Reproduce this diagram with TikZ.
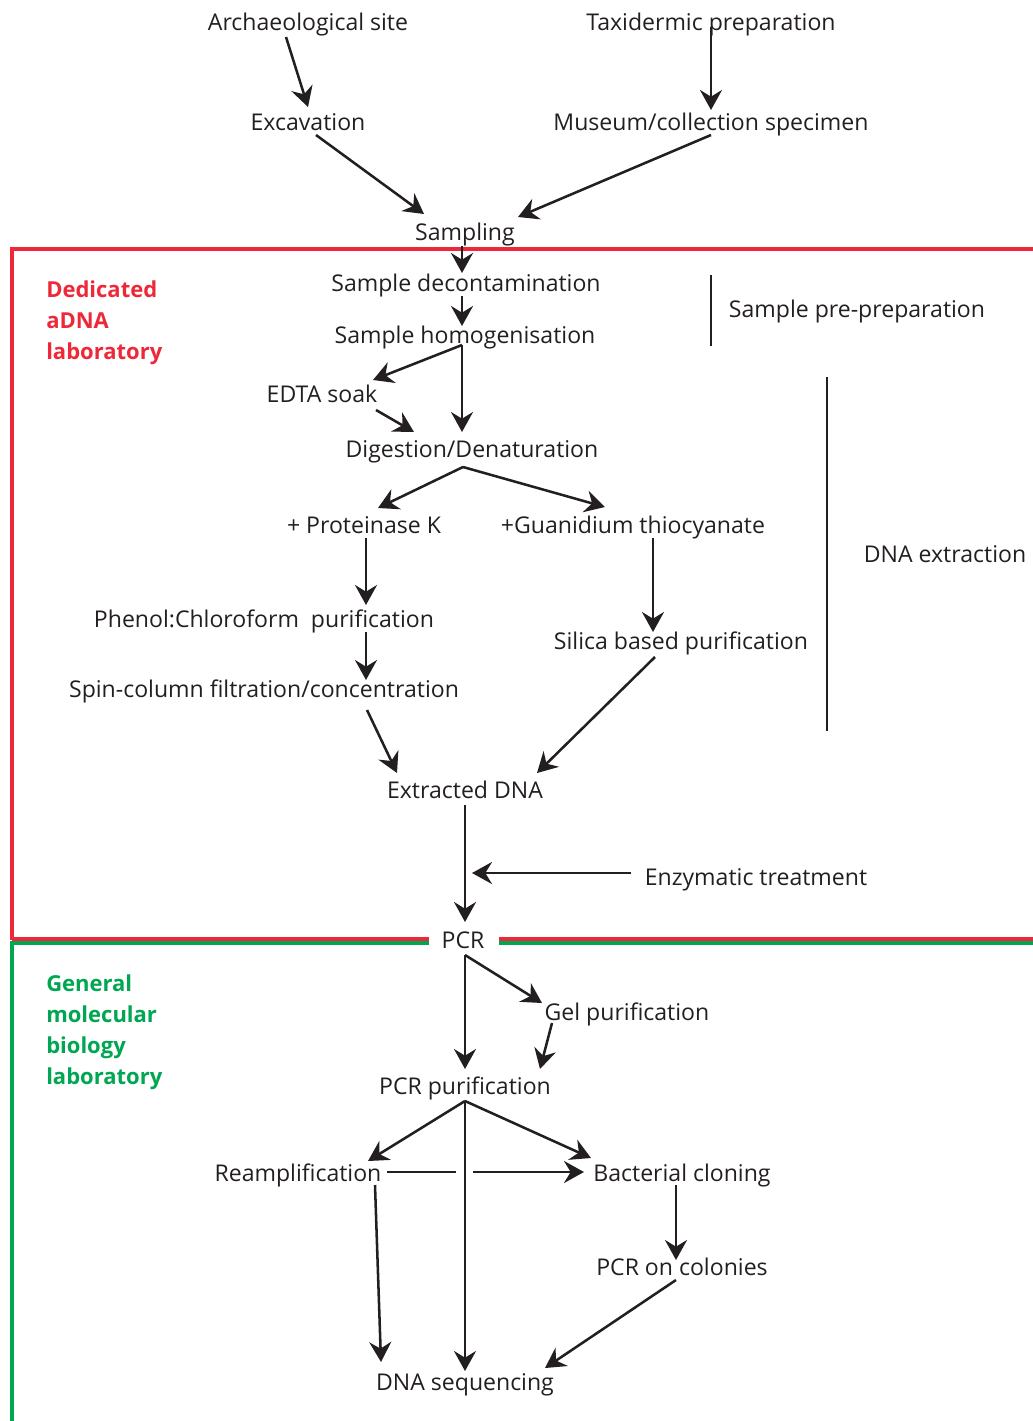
\documentclass[tikz,border=0pt]{standalone}
\usepackage{fontspec}
\setmainfont{Open Sans}
\usetikzlibrary{arrows.meta,calc}
\definecolor{ink}{HTML}{231F20}
\definecolor{labred}{HTML}{ED2939}
\definecolor{labgreen}{HTML}{00A651}
\begin{document}
\begin{tikzpicture}[x=0.75pt,y=-0.75pt,
  lbl/.style={anchor=base, inner sep=0pt, text=ink, font=\fontsize{17.3}{20}\selectfont},
  zone/.style={anchor=base west, inner sep=0pt, align=left, font=\bfseries\fontsize{16.5}{23.25}\selectfont},
  arr/.style={draw=ink, line width=1.9pt, -{Stealth[length=15pt, width=16.5pt, inset=5pt]}},
  plain/.style={draw=ink, line width=1.9pt},
  wall/.style={line width=3pt}]
\useasboundingbox (0,0) rectangle (1032,1421);

% laboratory zones
\draw[wall, labred] (12,940) -- (12,249) -- (1040,249);
\draw[wall, labred] (12,939) -- (429,939);
\draw[wall, labred] (499,939) -- (1040,939);
\draw[wall, labgreen] (12,943) -- (429,943);
\draw[wall, labgreen] (499,943) -- (1040,943);
\draw[wall, labgreen] (12,941) -- (12,1430);

% the base anchor of a multi-line label sits on its last line
\node[zone, text=labred] (adna) at (46,359) {Dedicated\\aDNA\\laboratory};
\node[zone, text=labgreen] (gen) at (46,1084) {General\\molecular\\biology\\laboratory};

% steps
\node[lbl] (arch)   at (308,30)   {Archaeological site};
\node[lbl] (taxi)   at (711,30)   {Taxidermic preparation};
\node[lbl] (exc)    at (308,130)  {Excavation};
\node[lbl] (mus)    at (711,130)  {Museum/collection specimen};
\node[lbl] (samp)   at (465,240)  {Sampling};
\node[lbl] (decon)  at (466,291)  {Sample decontamination};
\node[lbl] (homog)  at (465,343)  {Sample homogenisation};
\node[lbl] (edta)   at (322,402)  {EDTA soak};
\node[lbl] (dig)    at (472,457)  {Digestion/Denaturation};
\node[lbl] (protk)  at (364,533)  {+ Proteinase K};
\node[lbl] (guan)   at (633,533)  {+Guanidium thiocyanate};
\node[lbl] (phenol) at (264,627)  {Phenol:Chloroform\ \ purification};
\node[lbl] (silica) at (681,649)  {Silica based purification};
\node[lbl] (spin)   at (264,697)  {Spin-column filtration/concentration};
\node[lbl] (extr)   at (465,798)  {Extracted DNA};
\node[lbl] (enz)    at (756,885)  {Enzymatic treatment};
\node[lbl] (pcr)    at (463,948)  {PCR};
\node[lbl] (gel)    at (627,1020) {Gel purification};
\node[lbl] (pcrp)   at (465,1094) {PCR purification};
\node[lbl] (reamp)  at (298,1181) {Reamplification};
\node[lbl] (bact)   at (682,1181) {Bacterial cloning};
\node[lbl] (colon)  at (682,1275) {PCR on colonies};
\node[lbl] (seq)    at (465,1390) {DNA sequencing};

% stage brackets
\node[lbl] (prep)   at (857,317)  {Sample pre-preparation};
\node[lbl] (dnaext) at (945,562)  {DNA extraction};
\draw[plain] ($(prep.base)+(-146,-42)$) -- ($(prep.base)+(-146,29)$);
\draw[plain] ($(dnaext.base)+(-118,-185)$) -- ($(dnaext.base)+(-118,169)$);

% flow
\draw[arr] ($(arch.base)+(-22,7)$)   -- ($(exc.base)+(0,-23)$);
\draw[arr] ($(taxi.base)+(0,-3)$)    -- ($(mus.base)+(0,-20)$);
\draw[arr] ($(exc.base)+(8,5)$)      -- ($(samp.base)+(-41,-26)$);
\draw[arr] ($(mus.base)+(0,5)$)      -- ($(samp.base)+(53,-23)$);
\draw[arr] ($(samp.base)+(-3,6)$)    -- ($(decon.base)+(-4,-18)$);
\draw[arr] ($(decon.base)+(-4,5)$)   -- ($(homog.base)+(-3,-17)$);
\draw[arr] ($(homog.base)+(-3,2)$)   -- ($(edta.base)+(51,-22)$);
\draw[arr] ($(homog.base)+(-3,2)$)   -- ($(dig.base)+(-10,-25)$);
\draw[arr] ($(edta.base)+(54,8)$)    -- ($(dig.base)+(-58,-25)$);
\draw[arr] ($(dig.base)+(-9,10)$)    -- ($(protk.base)+(14,-25)$);
\draw[arr] ($(dig.base)+(-9,10)$)    -- ($(guan.base)+(-28,-26)$);
\draw[arr] ($(protk.base)+(2,5)$)    -- ($(phenol.base)+(102,-22)$);
\draw[arr] ($(phenol.base)+(102,5)$) -- ($(spin.base)+(102,-17)$);
\draw[arr] ($(guan.base)+(20,5)$)    -- ($(silica.base)+(-28,-17)$);
\draw[arr] ($(spin.base)+(103,13)$)  -- ($(extr.base)+(-68,-25)$);
\draw[arr] ($(silica.base)+(-26,8)$) -- ($(extr.base)+(72,-25)$);
\draw[arr] ($(extr.base)+(0,7)$)     -- ($(pcr.base)+(2,-26)$);
\coordinate (treat) at ($(extr.base)+(7,75)$);
\draw[arr] ($(enz.base)+(-125,-12)$) -- (treat);
\draw[arr] ($(pcr.base)+(2,7)$)      -- ($(pcrp.base)+(0,-25)$);
\draw[arr] ($(pcr.base)+(2,7)$)      -- ($(gel.base)+(-85,-17)$);
\draw[arr] ($(gel.base)+(-75,3)$)    -- ($(pcrp.base)+(75,-25)$);
\draw[arr] ($(pcrp.base)+(0,7)$)     -- ($(reamp.base)+(70,-20)$);
\draw[arr] ($(pcrp.base)+(0,7)$)     -- ($(bact.base)+(-91,-23)$);
\draw[arr] ($(pcrp.base)+(0,7)$)     -- ($(seq.base)+(0,-19)$);
\draw[plain] ($(reamp.base)+(89,-9)$) -- ($(reamp.base)+(158,-9)$);
\draw[arr] ($(reamp.base)+(175,-9)$) -- ($(bact.base)+(-98,-9)$);
\draw[arr] ($(reamp.base)+(77,4)$)   -- ($(seq.base)+(-84,-28)$);
\draw[arr] ($(bact.base)+(-6,4)$)    -- ($(colon.base)+(-6,-15)$);
\draw[arr] ($(colon.base)+(-6,5)$)   -- ($(seq.base)+(80,-22)$);
\end{tikzpicture}
\end{document}
